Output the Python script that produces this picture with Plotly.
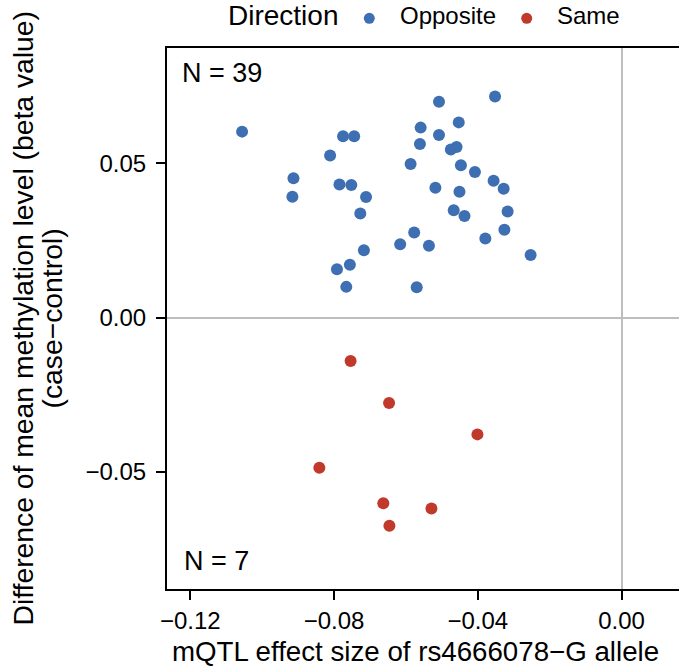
import plotly.graph_objects as go

# mQTL effect size (x) vs. case-control methylation difference (y) per CpG
opposite_x = [-0.1056, -0.0775, -0.0744, -0.0811, -0.0913, -0.0916, -0.0785, -0.0752,
              -0.0711, -0.0727, -0.0717, -0.0756, -0.0792, -0.0766, -0.0616, -0.0577,
              -0.0587, -0.0570, -0.0559, -0.0561, -0.0508, -0.0508, -0.0453, -0.0475,
              -0.0459, -0.0447, -0.0408, -0.0352, -0.0356, -0.0328, -0.0518, -0.0451,
              -0.0467, -0.0437, -0.0317, -0.0326, -0.0379, -0.0253, -0.0536]
opposite_y = [0.0603, 0.0588, 0.0588, 0.0526, 0.0452, 0.0392, 0.0432, 0.0430,
              0.0391, 0.0338, 0.0219, 0.0172, 0.0157, 0.0100, 0.0238, 0.0276,
              0.0498, 0.0099, 0.0616, 0.0563, 0.0700, 0.0592, 0.0633, 0.0545,
              0.0553, 0.0494, 0.0472, 0.0717, 0.0444, 0.0418, 0.0421, 0.0408,
              0.0348, 0.0330, 0.0344, 0.0285, 0.0257, 0.0203, 0.0233]

same_x = [-0.0754, -0.0647, -0.0401, -0.0841, -0.0663, -0.0529, -0.0646]
same_y = [-0.0140, -0.0276, -0.0378, -0.0486, -0.0601, -0.0618, -0.0674]

x_ticks = [-0.12, -0.08, -0.04, 0.00]
x_tick_labels = ["−0.12", "−0.08", "−0.04", "0.00"]
y_ticks = [-0.05, 0.00, 0.05]
y_tick_labels = ["−0.05", "0.00", "0.05"]

FONT = "Liberation Sans, Arial, sans-serif"
BLUE = "#3E6FB2"
RED = "#C0392B"

# plot area geometry (pixels) used to place the legend and titles in paper units
L, T, W, H = 167, 48, 512, 541


def px(xp):
    return (xp - L) / W


def py(yp):
    return 1 + (T - yp) / H


fig = go.Figure()
fig.add_trace(go.Scatter(x=opposite_x, y=opposite_y, mode="markers", name="Opposite",
                         marker=dict(color=BLUE, size=12, line=dict(width=0))))
fig.add_trace(go.Scatter(x=same_x, y=same_y, mode="markers", name="Same",
                         marker=dict(color=RED, size=12, line=dict(width=0))))

axis_common = dict(
    showgrid=False, zeroline=True, zerolinecolor="#BEBEBE", zerolinewidth=2,
    showline=True, linecolor="black", linewidth=2,
    ticks="outside", ticklen=9, tickwidth=2, tickcolor="black",
    tickfont=dict(family=FONT, size=24, color="black"),
)

fig.update_xaxes(range=[-0.1265, 0.0160], tickvals=x_ticks, ticktext=x_tick_labels,
                 mirror=True, ticklabelstandoff=0, **axis_common)
fig.update_yaxes(range=[-0.0879, 0.0874], tickvals=y_ticks, ticktext=y_tick_labels,
                 mirror=False, ticklabelstandoff=5, **axis_common)


def text_ann(text, x, y, size, xanchor="left", angle=0):
    return dict(text=text, xref="paper", yref="paper", x=x, y=y,
                xanchor=xanchor, yanchor="middle", showarrow=False, textangle=angle,
                font=dict(family=FONT, size=size, color="black"))


annotations = [
    text_ann("N = 39", px(180), py(73), 27),
    text_ann("N = 7", px(182), py(561), 27),
    text_ann("mQTL effect size of rs4666078−G allele", px(415.5), py(651), 27.7,
             xanchor="center"),
    text_ann("Difference of mean methylation level (beta value)", px(22), 0.5, 28.3,
             xanchor="center", angle=-90),
    text_ann("(case−control)", px(51), 0.5, 28.3, xanchor="center", angle=-90),
    # legend
    text_ann("Direction", px(226), py(15.8), 28),
    text_ann("Opposite", px(398), py(16), 24),
    text_ann("Same", px(555), py(16), 24),
]

legend_keys = [(369.3, BLUE), (526.7, RED)]
shapes = [
    dict(type="circle", xref="paper", yref="paper", xsizemode="pixel", ysizemode="pixel",
         xanchor=px(cx), yanchor=py(18.3), x0=-5.5, x1=5.5, y0=-5.5, y1=5.5,
         fillcolor=col, line=dict(width=0))
    for cx, col in legend_keys
]

fig.update_layout(
    width=679, height=672,
    margin=dict(l=L, r=0, t=T, b=672 - T - H),
    plot_bgcolor="white", paper_bgcolor="white",
    font=dict(family=FONT, size=24, color="black"),
    showlegend=False,
    annotations=annotations,
    shapes=shapes,
)

fig.write_html("out.html")
